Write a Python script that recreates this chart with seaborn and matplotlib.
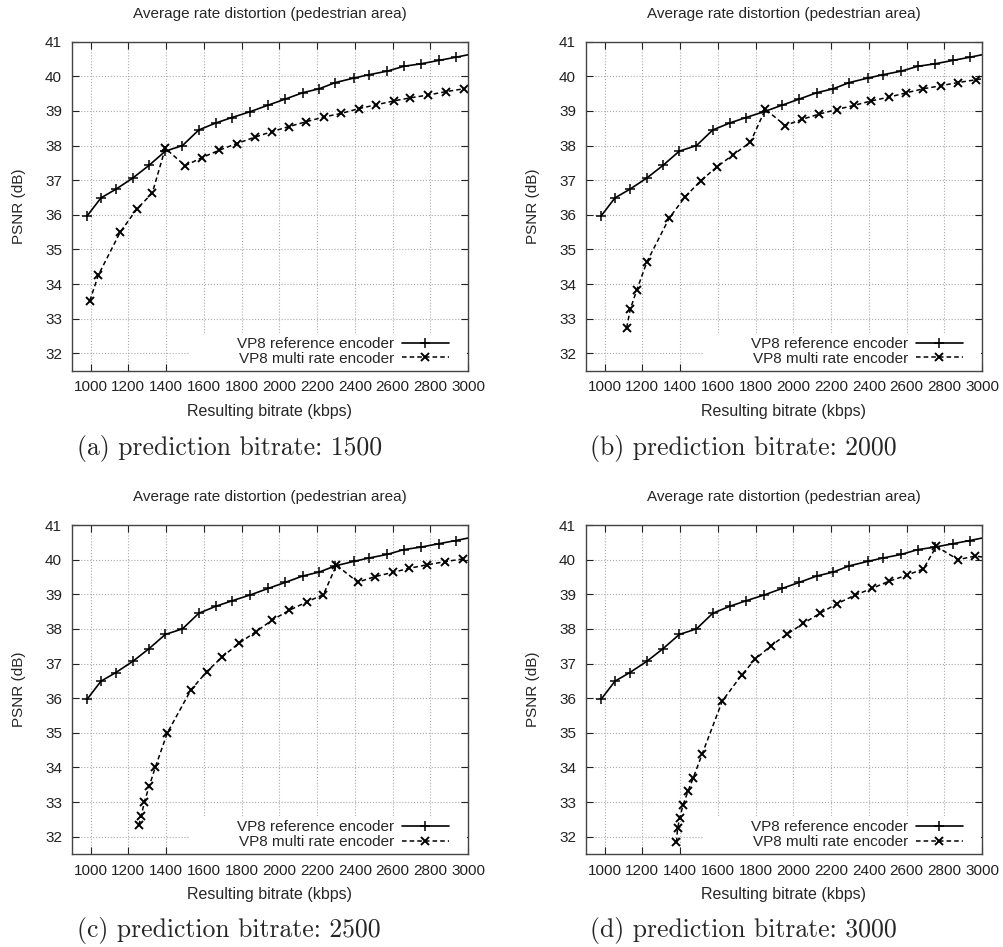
import matplotlib
matplotlib.use('Agg')
import matplotlib.pyplot as plt
import seaborn as sns
from matplotlib.patches import Rectangle

sns.set_style('ticks')
plt.rcParams['font.family'] = ['Liberation Sans', 'DejaVu Sans']

# VP8 reference encoder (same curve in every panel)
ref_kbps = [982, 1055, 1134, 1223, 1310, 1396, 1487, 1573, 1662, 1749, 1846, 1942,
            2030, 2126, 2211, 2297, 2395, 2478, 2572, 2660, 2749, 2846, 2934, 3025]
ref_psnr = [35.97, 36.49, 36.74, 37.06, 37.43, 37.84, 38.00, 38.45, 38.65, 38.81, 38.98, 39.17,
            39.34, 39.53, 39.64, 39.82, 39.95, 40.05, 40.15, 40.29, 40.36, 40.46, 40.55, 40.65]

# VP8 multi rate encoder, one curve per prediction bitrate
multi_1500_kbps = [996, 1042, 1157, 1244, 1327, 1396, 1501, 1589, 1683, 1775, 1869, 1959,
                   2051, 2143, 2239, 2329, 2423, 2515, 2607, 2695, 2789, 2885, 2978]
multi_1500_psnr = [33.52, 34.27, 35.50, 36.16, 36.63, 37.92, 37.42, 37.65, 37.87, 38.06, 38.24, 38.40,
                   38.55, 38.69, 38.83, 38.93, 39.07, 39.18, 39.29, 39.38, 39.46, 39.56, 39.64]

multi_2000_kbps = [1117, 1136, 1170, 1225, 1343, 1428, 1509, 1596, 1683, 1773, 1852, 1957,
                   2047, 2137, 2229, 2321, 2413, 2507, 2595, 2689, 2783, 2873, 2966, 3060]
multi_2000_psnr = [32.74, 33.27, 33.82, 34.65, 35.91, 36.53, 36.98, 37.39, 37.74, 38.10, 39.05, 38.58,
                   38.76, 38.91, 39.04, 39.16, 39.29, 39.40, 39.52, 39.64, 39.73, 39.82, 39.90, 39.98]

multi_2500_kbps = [1255, 1269, 1285, 1311, 1344, 1407, 1532, 1615, 1699, 1785, 1876, 1964,
                   2054, 2146, 2234, 2303, 2416, 2508, 2600, 2689, 2782, 2876, 2972]
multi_2500_psnr = [32.33, 32.60, 33.01, 33.46, 34.02, 35.00, 36.24, 36.76, 37.20, 37.58, 37.92, 38.26,
                   38.54, 38.78, 38.99, 39.84, 39.35, 39.51, 39.63, 39.75, 39.85, 39.94, 40.02]

multi_3000_kbps = [1381, 1387, 1398, 1416, 1442, 1470, 1518, 1624, 1727, 1797, 1881, 1967,
                   2054, 2144, 2233, 2325, 2417, 2509, 2601, 2689, 2758, 2873, 2963, 3050]
multi_3000_psnr = [31.84, 32.24, 32.53, 32.92, 33.31, 33.70, 34.40, 35.92, 36.67, 37.12, 37.51, 37.85,
                   38.16, 38.46, 38.73, 38.97, 39.17, 39.38, 39.55, 39.73, 40.38, 40.00, 40.10, 40.05]

multi_kbps = [multi_1500_kbps, multi_2000_kbps, multi_2500_kbps, multi_3000_kbps]
multi_psnr = [multi_1500_psnr, multi_2000_psnr, multi_2500_psnr, multi_3000_psnr]
captions = ['(a) prediction bitrate: 1500', '(b) prediction bitrate: 2000',
            '(c) prediction bitrate: 2500', '(d) prediction bitrate: 3000']
x_ticks = [1000, 1200, 1400, 1600, 1800, 2000, 2200, 2400, 2600, 2800, 3000]
y_ticks = [32, 33, 34, 35, 36, 37, 38, 39, 40, 41]

W, H = 1004, 947
fig = plt.figure(figsize=(W / 100, H / 100), dpi=100)

# panel boxes in pixels: left, top
boxes = [(71.7, 41.7), (585.7, 41.7), (71.7, 525), (585.7, 525)]
box_w, box_h = 396.3, 329
cap_pos = [(77, 448), (590, 448), (77, 930), (590, 930)]

for i in range(4):
    left, top = boxes[i]
    ax = fig.add_axes([left / W, 1 - (top + box_h) / H, box_w / W, box_h / H])
    ax.set_axisbelow(True)

    sns.lineplot(x=ref_kbps, y=ref_psnr, ax=ax, sort=False, color='black',
                 lw=1.2, marker='+', markersize=7, markeredgewidth=1.1,
                 markeredgecolor='black', label='VP8 reference encoder')
    sns.lineplot(x=multi_kbps[i], y=multi_psnr[i], ax=ax, sort=False, color='black',
                 lw=1.1, linestyle=(0, (3, 2)), marker='x', markersize=5.5,
                 markeredgewidth=1.4, markeredgecolor='black',
                 label='VP8 multi rate encoder')

    ax.set_xlim(900, 3000)
    ax.set_ylim(31.5, 41)
    ax.set_xticks(x_ticks)
    ax.set_yticks(y_ticks)
    ax.grid(True, color='#aaaaaa', linestyle=':', linewidth=0.8)
    ax.tick_params(direction='in', top=True, right=True, length=5, width=0.8,
                   labelsize=11, pad=7, colors='#222222')
    for sp in ax.spines.values():
        sp.set_color('#444444')
        sp.set_linewidth(1.0)

    # opaque key box, gnuplot style
    ax.add_patch(Rectangle((0.2985, 0.0), 0.70, 0.115, transform=ax.transAxes,
                           facecolor='white', edgecolor='none', zorder=1))

    ax.set_title('Average rate distortion (pedestrian area)', fontsize=11, pad=17)
    ax.set_xlabel('Resulting bitrate (kbps)', fontsize=11.5, labelpad=7)
    ax.set_ylabel('PSNR (dB)', fontsize=11, labelpad=14)

    ax.legend(loc='lower right', bbox_to_anchor=(0.952, 0.015), frameon=False,
              markerfirst=False, fontsize=11, handlelength=3.1, handletextpad=0.5,
              labelspacing=0.05, borderpad=0, borderaxespad=0)

    cx, cy = cap_pos[i]
    fig.text(cx / W, 1 - cy / H, captions[i], family=['cmr10', 'DejaVu Serif'],
             fontsize=18.5, ha='left', va='center')

plt.savefig('out.png', dpi=100)
